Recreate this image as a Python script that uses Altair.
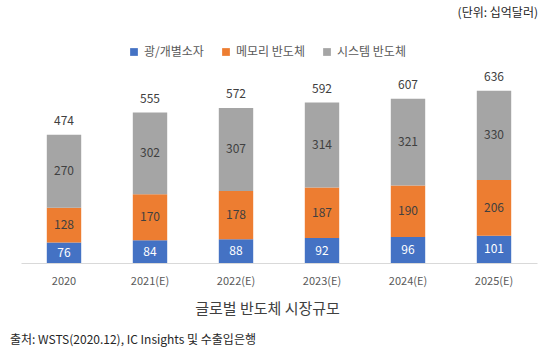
import altair as alt
import pandas as pd

years = ["2020", "2021(E)", "2022(E)", "2023(E)", "2024(E)", "2025(E)"]
series = ["광/개별소자", "메모리 반도체", "시스템 반도체"]
discrete = [76, 84, 88, 92, 96, 101]
memory = [128, 170, 178, 187, 190, 206]
system = [270, 302, 307, 314, 321, 330]
totals = [474, 555, 572, 592, 607, 636]
colors = ["#4472C4", "#ED7D31", "#A5A5A5"]
label_colors = ["#FFFFFF", "#404040", "#404040"]

rows = []
for i, y in enumerate(years):
    for k, (name, vals) in enumerate(zip(series, [discrete, memory, system])):
        rows.append({"year": y, "series": name, "value": vals[i], "order": k,
                     "lcolor": label_colors[k]})
df = pd.DataFrame(rows)
tot = pd.DataFrame({"year": years, "total": totals})

FONT = "Noto Sans CJK KR"

xenc = alt.X("year:N", sort=years,
             scale=alt.Scale(paddingInner=0.6, paddingOuter=0.3),
             axis=alt.Axis(title="글로벌 반도체 시장규모", labelAngle=0, ticks=False,
                           domainColor="#D9D9D9", labelColor="#595959", labelFont=FONT,
                           labelFontSize=11, labelPadding=12, titleFont=FONT,
                           titleFontSize=15, titleFontWeight="normal", titleColor="#404040",
                           titlePadding=15, titleX=246, titleAlign="center"))
yscale = alt.Scale(domain=[0, 680])

base = alt.Chart(df).transform_stack(
    stack="value", groupby=["year"], as_=["y0", "y1"],
    sort=[alt.SortField("order", order="ascending")]
).transform_calculate(mid="(datum.y0 + datum.y1) / 2")

bars = base.mark_bar().encode(
    x=xenc,
    y=alt.Y("y0:Q", scale=yscale, axis=None),
    y2="y1:Q",
    color=alt.Color("series:N", sort=series,
                    scale=alt.Scale(domain=series, range=colors),
                    legend=alt.Legend(title=None, orient="none", direction="horizontal",
                                      legendX=107, legendY=-33, symbolType="square",
                                      symbolSize=60, labelFont=FONT, labelFontSize=12,
                                      labelColor="#595959", columnPadding=16,
                                      symbolStrokeWidth=0)),
)

seg_labels = base.mark_text(font=FONT, fontSize=12).encode(
    x=alt.X("year:N", sort=years),
    y=alt.Y("mid:Q", scale=yscale),
    text="value:Q",
    color=alt.Color("lcolor:N", scale=None),
)

total_labels = alt.Chart(tot).mark_text(font=FONT, fontSize=12, dy=-14,
                                        color="#404040").encode(
    x=alt.X("year:N", sort=years),
    y=alt.Y("total:Q", scale=yscale),
    text="total:Q",
)

unit = alt.Chart(pd.DataFrame({"t": ["(단위: 십억달러)"]})).mark_text(
    font=FONT, fontSize=12, align="right", color="#262626").encode(
    x=alt.value(517), y=alt.value(-66), text="t:N")

source = alt.Chart(pd.DataFrame({"t": ["출처: WSTS(2020.12), IC Insights 및 수출입은행"]})).mark_text(
    font=FONT, fontSize=12, align="left", color="#262626").encode(
    x=alt.value(-11), y=alt.value(261), text="t:N")

chart = alt.layer(bars, seg_labels, total_labels, unit, source).properties(
    width=516, height=184,
    autosize=alt.AutoSizeParams(type="none"),
    padding={"left": 21, "top": 79, "right": 11, "bottom": 94},
).configure(background="white", view={"stroke": None})

chart.save("out.html", embed_options={"renderer": "svg", "actions": False})
